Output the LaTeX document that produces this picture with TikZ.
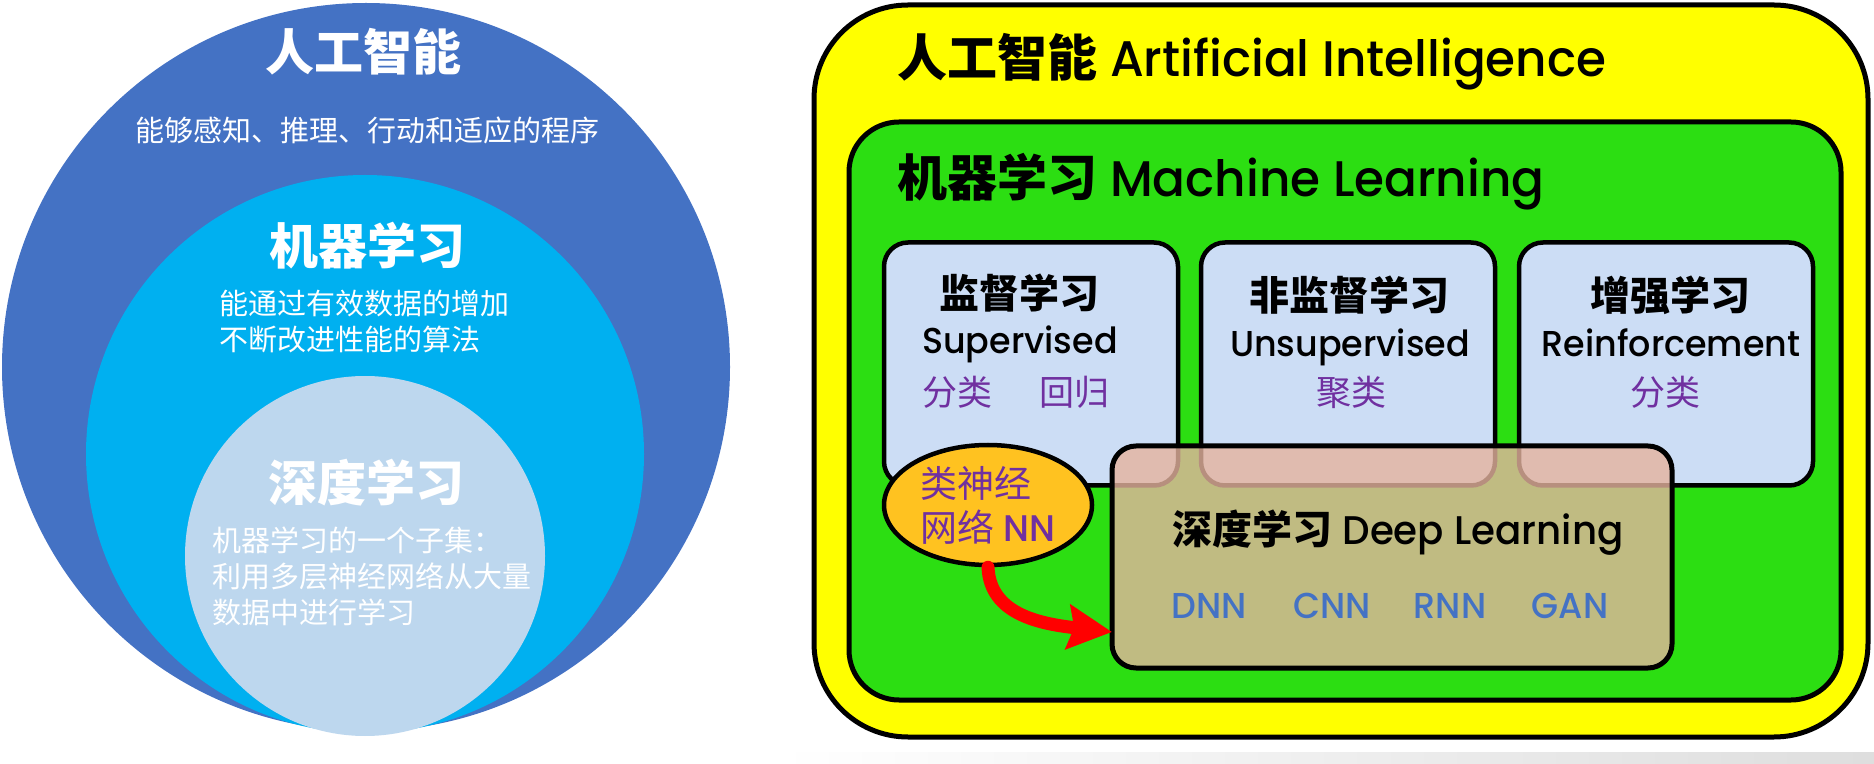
\documentclass[tikz,border=0pt]{standalone}
\usepackage{fontspec}
\setmainfont{Poppins Medium}[FakeStretch=0.97]
\newfontfamily\cjk{Noto Sans CJK SC}
\usetikzlibrary{shapes.geometric, arrows.meta, positioning}

\definecolor{aiblue}{RGB}{68,114,196}
\definecolor{mlcyan}{RGB}{0,176,240}
\definecolor{dllight}{RGB}{189,215,238}
\definecolor{aiyellow}{RGB}{255,255,0}
\definecolor{mlgreen}{RGB}{44,222,18}
\definecolor{boxblue}{RGB}{204,221,245}
\definecolor{dlfill}{RGB}{229,179,158}
\definecolor{nnorange}{RGB}{255,194,32}
\definecolor{tagpurple}{RGB}{112,48,160}
\definecolor{netblue}{RGB}{68,114,196}

\begin{document}
\begin{tikzpicture}[
    x=0.5pt, y=-0.5pt,
    ring/.style={circle, inner sep=0pt},
    ringhead/.style={font=\cjk\bfseries\fontsize{24.5}{29}\selectfont, text=white, inner sep=0pt},
    ringtext/.style={font=\cjk\fontsize{14.5}{18}\selectfont, text=white, inner sep=0pt, align=left},
    panel/.style={rectangle, draw, line width=2.5pt, inner sep=0pt},
    learnbox/.style={rectangle, draw, line width=2.25pt, fill=boxblue, rounded corners=12pt, minimum width=147pt, minimum height=121.5pt, inner sep=0pt},
    paneltitle/.style={font=\fontsize{25}{30}\selectfont, anchor=base west, inner sep=0pt},
    boxhead/.style={font=\cjk\bfseries\fontsize{20}{24}\selectfont, anchor=base, inner sep=0pt},
    boxname/.style={font=\fontsize{18}{22}\selectfont, anchor=base, inner sep=0pt},
    tag/.style={font=\cjk\fontsize{17.5}{21}\selectfont, text=tagpurple, anchor=base, inner sep=0pt},
    net/.style={font=\fontsize{18}{22}\selectfont, text=netblue, anchor=base, inner sep=0pt},
    bigarrow/.style={-{Stealth[length=22pt, width=22pt, inset=3pt]}, line width=6.5pt, draw=red, line cap=round}
]
    \useasboundingbox (0,0) rectangle (1874,764);

    % nested circles
    \node[ring, fill=aiblue, minimum size=364pt] (aic) at (366,367) {};
    \node[ring, fill=mlcyan, minimum size=279pt] (mlc) at (365,454) {};
    \node[ring, fill=dllight, minimum size=180pt] (dlc) at (365,556) {};

    \node[ringhead] (aihead) at (363,52) {人工智能};
    \node[ringtext] (aidesc) at (367,130) {能够感知、推理、行动和适应的程序};
    \node[ringhead] (mlhead) at (367,246) {机器学习};
    \node[ringtext, anchor=west] (mldesc) at (219,321) {能通过有效数据的增加\\不断改进性能的算法};
    \node[ringhead] (dlhead) at (366,483) {深度学习};
    \node[ringtext, anchor=west] (dldesc) at (212,576) {机器学习的一个子集：\\利用多层神经网络从大量\\数据中进行学习};

    % nested panels
    \node[panel, fill=aiyellow, rounded corners=47pt, minimum width=527pt, minimum height=366pt] (ai) at (1341,371) {};
    \node[panel, fill=mlgreen, rounded corners=25pt, minimum width=496pt, minimum height=289pt] (ml) at (1345,411) {};
    \node[paneltitle] (aititle) at (897,77) {{\cjk\bfseries 人工智能} Artificial Intelligence};
    \node[paneltitle] (mltitle) at (897,197) {{\cjk\bfseries 机器学习} Machine Learning};

    \node[learnbox] (sup) at (1031,364) {};
    \node[learnbox] (unsup) at (1348,364) {};
    \node[learnbox] (reinf) at (1666,364) {};

    \node[boxhead] (suphead) at (1019,309) {监督学习};
    \node[boxname] (supname) at (1020,354) {Supervised};
    \node[tag] (suptag) at (1016,406) {分类\hspace{24pt}回归};
    \node[boxhead] (unsuphead) at (1349,311) {非监督学习};
    \node[boxname] (unsupname) at (1350,357) {Unsupervised};
    \node[tag] (unsuptag) at (1351,406) {聚类};
    \node[boxhead] (reinfhead) at (1670,311) {增强学习};
    \node[boxname] (reinfname) at (1671,357) {Reinforcement};
    \node[tag] (reinftag) at (1665,406) {分类};

    \node[panel, draw=black, fill=dlfill, fill opacity=0.8, rounded corners=12pt, minimum width=280pt, minimum height=111pt] (dl) at (1392,557) {};
    \node[font=\fontsize{20}{24}\selectfont, anchor=base, inner sep=0pt] (dltitle) at (1398,545) {{\cjk\bfseries 深度学习} Deep Learning};
    \node[net] (dnn) at (1209,618) {DNN};
    \node[net] (cnn) at (1332,618) {CNN};
    \node[net] (rnn) at (1450,618) {RNN};
    \node[net] (gan) at (1570,618) {GAN};

    \node[ellipse, draw, line width=2.25pt, fill=nnorange, minimum width=104pt, minimum height=60pt, inner sep=0pt,
          align=left, text=tagpurple, font=\fontsize{18.5}{22}\selectfont] (nn) at (988,505) {{\cjk 类神经}\\{\cjk 网络} NN};

    \coordinate (dlin) at (1112,632);
    \draw[bigarrow] (nn.south) .. controls +(2,48) and +(-70,-8) .. (dlin);

    % shadow under the panels
    \shade[left color=white, right color=black!13] (779,752) rectangle (1874,764);
\end{tikzpicture}
\end{document}
